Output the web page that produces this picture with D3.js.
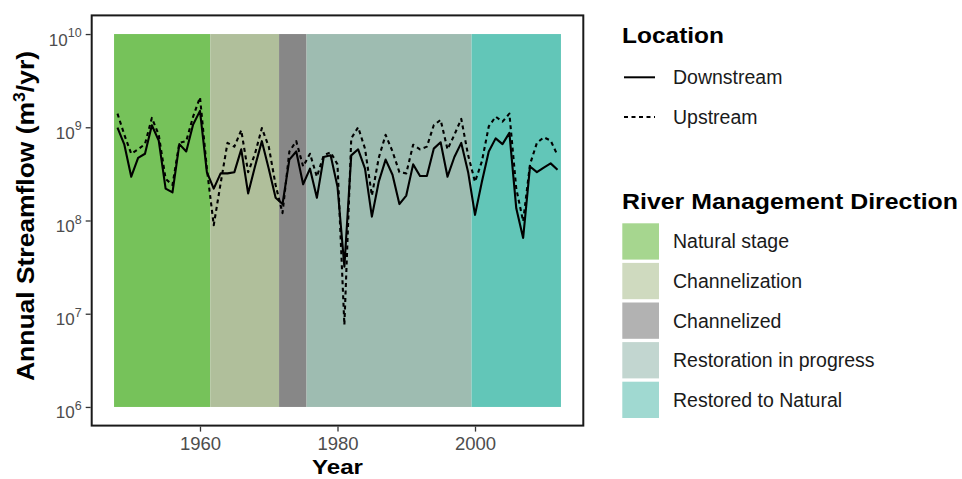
<!DOCTYPE html>
<html>
<head>
<meta charset="utf-8">
<script src="https://cdn.jsdelivr.net/npm/d3@7"></script>
<style>
  html, body { margin: 0; padding: 0; background: #fff; }
  svg { display: block; font-family: "Liberation Sans", Arial, Helvetica, sans-serif; }
</style>
</head>
<body>
<svg id="chart" width="962" height="479"></svg>
<script>
// ---------- data ----------
const years = [1948,1949,1950,1951,1952,1953,1954,1955,1956,1957,1958,1959,1960,1961,1962,1963,1964,1965,1966,1967,
  1968,1969,1970,1971,1972,1973,1974,1975,1976,1977,1978,1979,1980,1981,1982,1983,1984,1985,1986,1987,
  1988,1989,1990,1991,1992,1993,1994,1995,1996,1997,1998,1999,2000,2001,2002,2003,2004,2005,2006,2007,
  2008,2009,2010,2011,2012];

const downstream = [9.9e8,6.5e8,2.95e8,4.7e8,5.2e8,1.05e9,7.2e8,2.2e8,2.0e8,6.6e8,5.5e8,1.07e9,1.5e9,3.3e8,2.2e8,3.2e8,3.2e8,3.3e8,5.8e8,1.95e8,
  3.8e8,7.1e8,3.6e8,1.75e8,1.5e8,4.5e8,5.5e8,2.45e8,3.6e8,1.75e8,4.8e8,5.0e8,2.3e8,3.2e7,5.0e8,5.8e8,3.6e8,1.1e8,2.6e8,4.5e8,
  3.1e8,1.5e8,1.85e8,4.0e8,3.0e8,3.0e8,5.9e8,6.9e8,2.95e8,4.8e8,6.8e8,3.3e8,1.15e8,2.6e8,5.5e8,7.6e8,6.6e8,8.7e8,1.35e8,6.5e7,
  3.8e8,3.3e8,3.7e8,4.1e8,3.5e8];

const upstream = [1.4e9,8.3e8,5.2e8,5.8e8,6.6e8,1.26e9,8.3e8,2.8e8,2.4e8,6.8e8,7.1e8,1.3e9,2.1e9,3.6e8,8.9e7,2.5e8,6.8e8,6.2e8,9.3e8,3.3e8,
  5.2e8,9.8e8,6.2e8,2.4e8,1.2e8,5.5e8,7.1e8,3.8e8,5.2e8,2.95e8,5.0e8,5.4e8,4.0e8,7.6e6,7.6e8,1.0e9,5.9e8,1.85e8,4.7e8,8.3e8,
  5.5e8,3.3e8,3.2e8,6.5e8,5.8e8,6.2e8,1.05e9,1.2e9,5.8e8,8.3e8,1.23e9,5.0e8,2.6e8,4.3e8,1.02e9,1.3e9,1.15e9,1.4e9,2.2e8,9.8e7,
  4.0e8,6.8e8,7.8e8,7.2e8,5.0e8];

const periodNames = ["Natural stage","Channelization","Channelized","Restoration in progress","Restored to Natural"];
const periodStart = [1948, 1962, 1972, 1976, 2000];
const periodEnd   = [1961, 1971, 1975, 1999, 2012];
const periodFill  = ["#76c25a","#b0bf9b","#878787","#9ebcb1","#62c6b8"];
const periodKey   = ["#a6d68f","#cfdabf","#b2b2b2","#c2d6d0","#a0d9d1"];
const bandTop = 1e10, bandBottom = 1e6;

const xTicks = [1960, 1980, 2000];
const yTickExp = [6, 7, 8, 9, 10];

const locations = ["Downstream", "Upstream"];
const locationDash = [null, "4,3.5"];

// ---------- layout ----------
const svg = d3.select("#chart");
const P = { left: 91.7, right: 583.3, top: 15.4, bottom: 425.6 };

const x = d3.scaleLinear().domain([1944.25, 2015.75]).range([P.left, P.right]);
const y = d3.scaleLog().domain([Math.pow(10, 5.8), Math.pow(10, 10.2)]).range([P.bottom, P.top]);

// background bands
svg.append("g").selectAll("rect")
  .data(periodNames.map((n, i) => ({ n, s: periodStart[i], e: periodEnd[i], f: periodFill[i] })))
  .join("rect")
  .attr("x", d => x(d.s - 0.5))
  .attr("width", d => x(d.e + 0.5) - x(d.s - 0.5))
  .attr("y", y(bandTop))
  .attr("height", y(bandBottom) - y(bandTop))
  .attr("fill", d => d.f);

// lines
const series = [downstream, upstream];
const line = d3.line().x(d => x(d[0])).y(d => y(d[1]));
series.forEach((vals, i) => {
  svg.append("path")
    .datum(years.map((yr, j) => [yr, vals[j]]))
    .attr("d", line)
    .attr("fill", "none")
    .attr("stroke", "#000")
    .attr("stroke-width", 2.1)
    .attr("stroke-linejoin", "round")
    .attr("stroke-dasharray", locationDash[i]);
});

// panel border
svg.append("rect")
  .attr("x", P.left).attr("y", P.top)
  .attr("width", P.right - P.left).attr("height", P.bottom - P.top)
  .attr("fill", "none").attr("stroke", "#1a1a1a").attr("stroke-width", 2);

// x axis
const gx = svg.append("g").attr("transform", `translate(0,${P.bottom + 1})`)
  .call(d3.axisBottom(x).tickValues(xTicks).tickFormat(d3.format("d")).tickSize(5).tickSizeOuter(0));
gx.select(".domain").remove();
gx.selectAll(".tick line").attr("stroke", "#333").attr("stroke-width", 1.3);
gx.selectAll(".tick text").attr("fill", "#4d4d4d").attr("font-size", 18.5).attr("y", 10).attr("dy", "0.71em")
  .style("font-family", "'Liberation Sans', Arial, sans-serif");

// y axis
const gy = svg.append("g").attr("transform", `translate(${P.left - 1},0)`)
  .call(d3.axisLeft(y).tickValues(yTickExp.map(e => Math.pow(10, e))).tickFormat("").tickSize(5).tickSizeOuter(0));
gy.select(".domain").remove();
gy.selectAll(".tick line").attr("stroke", "#333").attr("stroke-width", 1.3);
gy.selectAll(".tick").each(function(d, i) {
  const t = d3.select(this).append("text")
    .attr("x", -9).attr("y", 0)
    .attr("text-anchor", "end")
    .attr("fill", "#4d4d4d")
    .style("font-family", "'Liberation Sans', Arial, sans-serif");
  t.append("tspan").attr("font-size", 17).attr("dy", 11).text("10");
  t.append("tspan").attr("font-size", 12.5).attr("dy", -8.5).text(String(yTickExp[i]));
});

// axis titles
svg.append("text")
  .attr("x", (P.left + P.right) / 2).attr("y", 474)
  .attr("text-anchor", "middle").attr("font-weight", "bold").attr("font-size", 21)
  .attr("textLength", 51).attr("lengthAdjust", "spacingAndGlyphs")
  .attr("fill", "#000").text("Year");

const yt = svg.append("text")
  .attr("transform", "translate(33.5,216) rotate(-90)")
  .attr("text-anchor", "middle").attr("font-weight", "bold").attr("font-size", 24)
  .attr("textLength", 330).attr("lengthAdjust", "spacingAndGlyphs")
  .attr("fill", "#000");
yt.append("tspan").text("Annual Streamflow (m");
yt.append("tspan").attr("font-size", 16).attr("dy", -9).text("3");
yt.append("tspan").attr("dy", 9).text("/yr)");

// legend: Location
const LX = 622;
svg.append("text").attr("x", LX).attr("y", 42.5)
  .attr("font-weight", "bold").attr("font-size", 22.5)
  .attr("textLength", 102).attr("lengthAdjust", "spacingAndGlyphs")
  .attr("fill", "#000").text("Location");
const locY = [77.3, 117];
locations.forEach((n, i) => {
  svg.append("line")
    .attr("x1", LX + 2).attr("x2", LX + 33)
    .attr("y1", locY[i]).attr("y2", locY[i])
    .attr("stroke", "#000").attr("stroke-width", 2)
    .attr("stroke-dasharray", locationDash[i]);
  svg.append("text").attr("x", 673).attr("y", locY[i] + 7)
    .attr("font-size", 19.5).attr("fill", "#1a1a1a").text(n);
});

// legend: River Management Direction
svg.append("text").attr("x", LX).attr("y", 209)
  .attr("font-weight", "bold").attr("font-size", 22.5)
  .attr("textLength", 336).attr("lengthAdjust", "spacingAndGlyphs")
  .attr("fill", "#000").text("River Management Direction");
const swTop = 223.3, swStep = 39.6, swH = 36.3, swW = 36.7;
periodNames.forEach((n, i) => {
  svg.append("rect")
    .attr("x", LX + 0.3).attr("y", swTop + i * swStep)
    .attr("width", swW).attr("height", swH)
    .attr("fill", periodKey[i]);
  svg.append("text").attr("x", 673).attr("y", swTop + i * swStep + swH / 2 + 7)
    .attr("font-size", 19.5).attr("fill", "#1a1a1a").text(n);
});
</script>
</body>
</html>
